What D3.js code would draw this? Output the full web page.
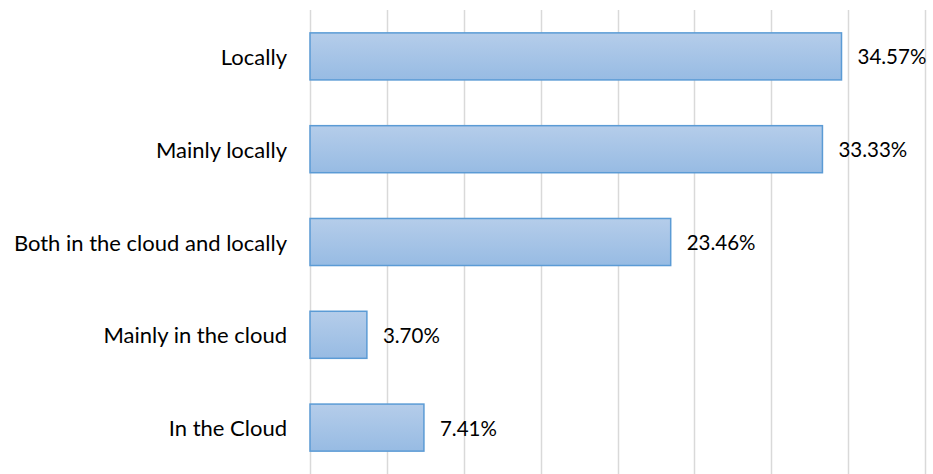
<!DOCTYPE html>
<html>
<head>
<meta charset="utf-8">
<script src="https://cdn.jsdelivr.net/npm/d3@7"></script>
<style>
  html, body { margin: 0; padding: 0; background: #fff; }
  svg { display: block; }
</style>
</head>
<body>
<svg id="chart" width="933" height="474"></svg>
<script>
const categories = ["Locally", "Mainly locally", "Both in the cloud and locally", "Mainly in the cloud", "In the Cloud"];
const values = [34.57, 33.33, 23.46, 3.70, 7.41];
const valueLabels = ["34.57%", "33.33%", "23.46%", "3.70%", "7.41%"];
const gridTicks = [0, 5, 10, 15, 20, 25, 30, 35, 40];

(function () {
const svg = d3.select("#chart");
const W = 933, H = 474;
const mLeft = 310, mRight = 925, mTop = 10, mBottom = 474;
const FONT = "Lato, 'Open Sans', sans-serif";

const x = d3.scaleLinear().domain([0, 40]).range([mLeft, mRight]);
const y = d3.scaleBand().domain(categories).range([mTop, mBottom])
  .paddingInner(0.493).paddingOuter(0.2465);

const defs = svg.append("defs");
const grad = defs.append("linearGradient").attr("id", "barGrad")
  .attr("x1", 0).attr("y1", 0).attr("x2", 0).attr("y2", 1);
grad.append("stop").attr("offset", "0%").attr("stop-color", "#b5cdea");
grad.append("stop").attr("offset", "100%").attr("stop-color", "#97bbe3");

// gridlines
svg.append("g").selectAll("line").data(gridTicks).join("line")
  .attr("x1", d => Math.round(x(d)) + 0.5).attr("x2", d => Math.round(x(d)) + 0.5)
  .attr("y1", mTop).attr("y2", H)
  .attr("stroke", "#d9d9d9").attr("stroke-width", 1.5);

// bars
svg.append("g").selectAll("rect").data(categories).join("rect")
  .attr("x", x(0))
  .attr("y", d => y(d))
  .attr("width", (d, i) => x(values[i]) - x(0))
  .attr("height", y.bandwidth())
  .attr("fill", "url(#barGrad)")
  .attr("stroke", "#5b9bd5").attr("stroke-width", 1.5);

// category labels
svg.append("g").selectAll("text").data(categories).join("text")
  .attr("x", 287)
  .attr("y", d => y(d) + y.bandwidth() / 2)
  .attr("text-anchor", "end")
  .attr("dominant-baseline", "central")
  .attr("font-family", FONT).attr("font-size", 22).attr("fill", "#000")
  .text(d => d);

// value labels
svg.append("g").selectAll("text").data(categories).join("text")
  .attr("x", (d, i) => x(values[i]) + 16)
  .attr("y", d => y(d) + y.bandwidth() / 2)
  .attr("text-anchor", "start")
  .attr("dominant-baseline", "central")
  .attr("font-family", FONT).attr("font-size", 20.5).attr("fill", "#000")
  .text((d, i) => valueLabels[i]);
})();
</script>
</body>
</html>
